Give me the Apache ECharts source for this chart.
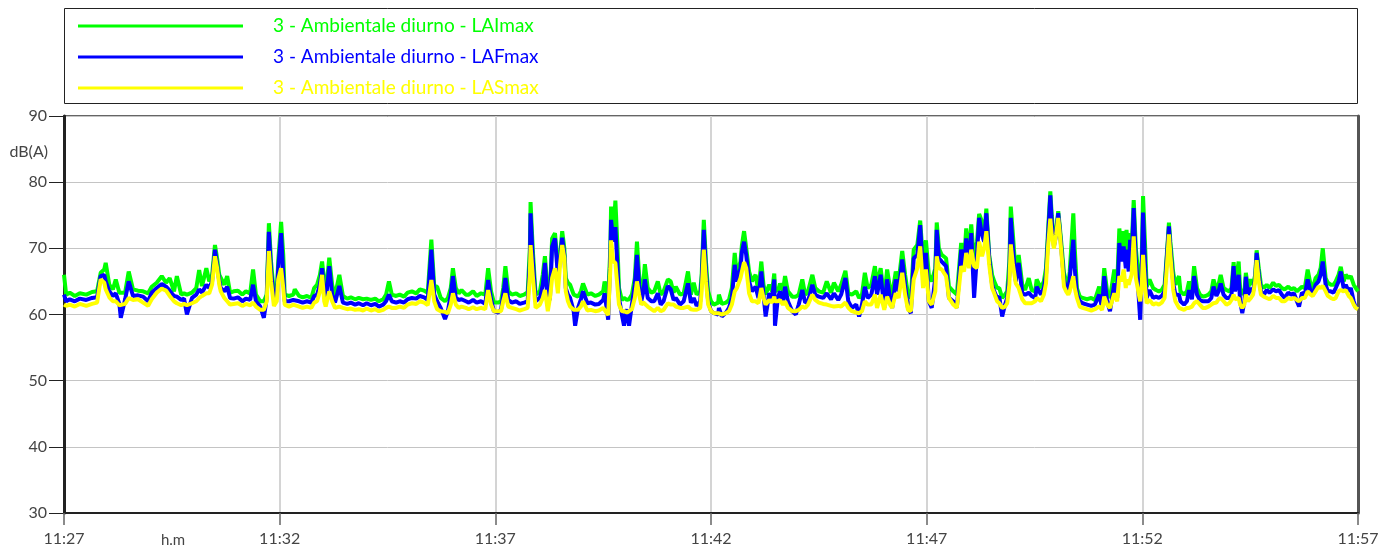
<!DOCTYPE html>
<html>
<head>
<meta charset="utf-8">
<script src="https://cdn.jsdelivr.net/npm/echarts@6/dist/echarts.min.js"></script>
<style>
  html, body { margin: 0; padding: 0; background: #fff; }
  #chart { width: 1394px; height: 550px; }
</style>
</head>
<body>
<div id="chart"></div>
<script>
// seconds after 11:27:00
const secs = [
  0,3,8,15,22,31,39,46,51,56,58,63,68,72,77,79,85,90,96,103,110,117,
  122,129,136,142,147,153,157,163,167,171,178,184,188,192,198,202,206,210,213,216,218,223,227,
  231,236,242,248,253,259,263,267,273,278,282,285,288,292,296,298,302,305,307,313,319,321,327,332,338,
  344,348,352,356,359,362,364,369,373,377,383,388,394,399,405,410,416,421,427,433,438,444,448,
  452,456,462,467,473,478,484,490,495,501,506,511,515,519,524,530,534,538,541,545,549,553,559,
  563,569,574,580,586,590,594,598,604,608,611,614,618,623,629,634,640,645,648,649,652,656,662,666,669,673,
  676,679,683,687,690,693,696,698,701,704,709,711,715,719,722,728,733,739,744,750,752,
  757,760,761,764,767,770,772,776,779,783,786,790,794,797,800,803,806,808,812,817,821,826,830,834,
  840,844,848,851,857,862,868,872,876,880,885,887,890,893,896,900,904,910,911,915,921,925,
  929,933,936,941,943,946,949,953,957,962,966,970,973,976,981,985,988,989,993,996,1000,1003,1007,1013,1018,1022,
  1027,1031,1035,1041,1045,1050,1056,1061,1067,1071,1077,1081,1087,1091,1096,1102,1106,1110,1114,1118,1123,1128,
  1131,1136,1141,1145,1149,1152,1157,1161,1166,1170,1174,1178,1182,1187,1191,1195,1199,1203,1207,1212,1214,1217,1221,1227,
  1231,1237,1242,1248,1252,1255,1259,1262,1266,1270,1273,1277,1280,1283,1287,1291,1294,1298,1301,1305,1309,1312,
  1315,1317,1320,1324,1328,1333,1337,1342,1346,1351,1353,1359,1363,1366,1369,1372,1374,1377,1380,1383,1385,1388,1391,1394,1397,
  1399,1404,1406,1409,1413,1417,1423,1429,1434,1440,1444,1447,1451,1455,1461,1465,1468,1471,1474,1477,1478,1481,1483,1485,1488,1491,1494,
  1497,1499,1501,1504,1506,1510,1515,1519,1523,1527,1531,1534,1537,1539,1543,1546,1551,1553,1558,1562,1565,1569,1572,1576,
  1580,1584,1588,1592,1596,1599,1603,1606,1609,1613,1617,1621,1624,1627,1629,1634,1636,1639,1642,1644,1647,1651,1654,1657,1659,1662,1665,
  1669,1673,1677,1682,1686,1690,1694,1698,1703,1707,1711,1715,1718,1722,1726,1730,1734,1737,1741,1745,1748,1751,1755,
  1758,1762,1766,1769,1773,1776,1780,1783,1787,1790,1794,1797,1800
]

const laiMax = [
  66.0,63.0,63.3,62.8,63.2,63.0,63.4,63.5,66.3,66.8,67.8,64.5,63.8,65.3,63.3,63.0,63.3,66.5,63.8,63.6,63.5,63.2,
  64.2,64.8,65.8,64.8,65.5,63.5,65.8,63.0,63.2,63.0,63.3,64.0,66.7,64.3,67.0,65.0,66.0,70.5,68.5,66.0,65.8,64.5,65.8,
  63.3,63.5,63.6,63.0,63.5,63.2,66.8,63.0,62.0,62.0,63.0,73.8,68.0,63.2,63.5,68.1,74.0,69.0,63.0,62.8,63.0,63.8,62.8,62.6,62.8,
  62.5,64.0,64.5,66.0,68.0,65.0,63.0,68.6,64.5,62.8,66.0,62.8,62.4,62.6,62.3,62.5,62.3,62.4,62.2,62.4,62.0,62.3,63.0,
  65.0,63.0,62.8,63.0,62.7,63.3,63.5,63.2,63.8,63.6,63.3,71.3,64.3,64.2,62.5,62.0,62.5,64.0,67.0,64.0,63.2,63.7,63.0,
  63.0,63.5,62.8,63.2,63.0,67.0,63.5,61.8,61.8,62.0,64.0,67.3,63.5,63.0,63.2,62.8,63.0,63.4,70.0,77.0,70.0,63.0,63.5,66.0,68.8,63.0,
  63.5,71.5,72.3,67.0,69.0,72.6,70.0,65.5,64.8,64.5,63.0,62.7,62.7,63.5,64.7,63.0,63.2,62.8,63.0,63.5,65.0,
  62.5,70.0,76.3,72.0,77.2,70.0,64.0,62.2,62.5,62.2,62.3,63.0,65.5,71.0,66.0,63.0,65.0,67.6,64.0,63.3,63.5,65.0,63.0,63.5,
  65.3,65.0,63.3,64.2,63.0,63.2,66.5,63.0,64.8,63.0,63.5,66.0,74.3,68.0,63.5,62.0,61.5,61.8,63.0,61.6,61.8,62.2,
  64.0,69.3,66.0,68.0,70.5,72.6,70.0,66.5,65.0,66.0,63.5,68.0,64.5,63.0,64.5,63.5,66.2,64.0,63.5,64.7,63.5,65.8,63.5,62.7,62.7,63.0,
  65.3,63.0,63.5,66.0,64.0,63.5,63.3,65.0,63.3,64.8,63.5,64.5,66.6,63.2,63.0,63.5,62.5,63.0,66.3,64.0,64.5,67.3,
  64.5,67.0,62.5,66.8,64.0,63.0,66.5,65.0,69.6,66.0,63.0,62.5,69.8,70.5,74.2,68.0,71.2,66.0,65.0,67.0,73.9,70.0,69.0,68.5,
  64.2,63.5,63.0,70.8,68.0,73.0,69.0,73.6,68.0,71.0,75.2,74.0,72.0,76.0,69.0,66.0,65.0,64.0,64.0,62.5,63.0,63.5,
  68.0,76.3,72.0,66.0,69.0,64.5,63.7,65.5,63.7,63.5,65.3,64.0,65.0,67.0,73.0,78.6,75.0,71.0,72.5,75.6,73.5,70.0,66.3,65.0,64.5,
  66.5,75.3,70.0,64.0,62.7,62.5,62.3,62.5,62.2,64.2,62.5,67.0,63.5,62.5,66.8,64.5,73.0,70.0,72.6,69.0,72.8,68.0,72.3,70.0,77.3,70.0,66.5,
  64.0,68.0,77.9,70.0,64.2,65.3,64.0,63.7,63.5,63.7,64.5,69.0,73.9,71.0,66.3,64.5,65.8,63.5,63.0,63.5,65.0,63.5,67.3,64.0,
  63.0,62.7,62.8,63.0,63.5,65.3,63.8,64.5,66.0,64.0,63.7,63.5,64.0,67.9,64.5,68.0,64.0,63.0,63.5,66.3,64.0,65.3,64.5,66.0,69.7,67.0,64.5,
  64.0,64.5,64.0,64.8,64.3,64.5,64.0,63.8,64.2,63.8,64.0,63.5,63.8,64.2,64.0,66.8,64.5,64.0,65.5,66.0,67.0,70.0,65.5,
  64.8,64.5,64.5,65.0,66.0,67.2,65.0,66.0,65.5,65.8,64.5,64.0,63.5
]

const lafMax = [
  63.0,62.0,62.3,62.0,62.4,62.2,62.5,62.6,65.8,66.0,65.0,63.5,62.8,63.2,61.6,59.5,62.3,65.0,62.8,62.9,62.7,62.0,
  63.3,64.0,64.6,64.2,63.6,62.8,62.7,62.2,62.4,60.0,62.5,63.0,63.8,63.3,64.5,64.0,65.0,69.8,67.5,65.0,64.0,63.5,64.2,
  62.5,62.4,62.6,62.0,62.4,62.2,64.5,62.0,61.2,59.5,62.5,72.5,66.5,62.3,62.5,67.0,72.3,66.0,62.0,62.0,62.2,62.5,62.0,61.8,62.0,
  61.8,62.8,63.0,64.5,67.0,63.0,62.0,67.3,63.0,61.8,64.3,61.8,61.6,61.8,61.5,61.7,61.4,61.7,61.4,61.6,61.2,61.5,62.0,
  63.0,62.0,61.8,62.0,61.8,62.3,62.5,62.4,62.8,62.6,62.2,69.8,63.0,62.0,61.0,59.3,60.5,63.0,65.8,62.5,62.2,62.3,62.0,
  61.8,62.2,61.8,62.0,61.6,65.2,62.3,60.5,60.3,60.8,63.0,65.5,62.2,61.8,62.0,61.6,61.8,62.0,68.0,75.3,68.5,62.0,62.5,64.5,67.8,61.5,
  62.5,70.3,71.5,66.0,68.0,71.6,69.0,64.0,63.0,62.5,60.5,58.3,61.0,62.3,63.5,61.7,61.8,61.5,61.6,62.2,63.2,
  59.2,69.0,74.3,71.0,73.2,67.0,62.5,60.0,58.3,60.8,58.3,61.5,64.5,69.0,64.5,62.0,63.5,65.3,62.5,62.0,62.0,63.2,61.5,62.0,
  64.3,63.8,62.2,62.5,61.5,62.0,64.7,61.8,62.5,61.3,62.0,65.0,72.8,66.5,62.0,60.5,60.2,60.0,61.0,59.7,60.3,61.0,
  62.5,67.5,65.0,67.0,69.5,71.0,69.0,65.0,63.5,64.2,62.5,66.5,63.0,59.7,63.2,62.5,65.3,58.3,62.5,63.5,62.0,64.2,62.0,60.5,60.0,61.5,
  63.7,61.8,62.0,64.5,63.0,62.7,62.5,63.2,62.3,63.2,62.2,63.0,65.5,62.0,61.0,61.5,59.7,61.5,64.2,62.5,63.0,65.8,
  63.0,66.0,61.0,65.3,62.5,61.0,65.3,63.5,68.3,64.5,61.0,60.2,68.5,69.0,73.5,66.0,69.3,62.0,61.0,65.5,72.8,68.5,68.0,67.3,
  62.5,62.0,61.0,69.8,67.0,71.5,68.0,72.3,62.5,69.0,74.6,72.0,71.0,75.3,68.5,64.5,63.5,62.5,62.7,59.7,61.5,62.5,
  66.0,74.6,70.0,65.0,67.8,63.2,63.0,63.3,62.8,62.5,64.2,63.0,64.0,66.0,72.0,78.0,74.0,70.3,72.0,75.3,73.0,69.0,65.2,64.0,63.5,
  65.5,71.3,67.0,63.0,62.0,61.7,61.5,61.3,61.5,63.0,61.0,65.8,62.0,60.5,64.7,62.5,70.8,68.0,70.3,67.0,69.8,66.5,71.3,68.0,76.1,68.0,64.3,
  59.2,66.0,75.4,67.0,62.5,63.7,62.5,62.7,62.5,62.8,63.5,68.5,73.3,70.0,64.7,63.0,63.0,62.0,61.5,62.0,63.7,62.3,65.8,63.0,
  62.2,62.0,62.0,62.0,62.5,64.2,62.8,63.5,64.7,63.0,62.5,62.5,63.0,67.3,63.5,66.0,62.0,60.2,62.0,65.7,63.0,64.0,63.5,65.5,69.3,66.0,63.5,
  63.0,63.7,63.3,63.8,63.5,63.7,63.0,62.5,63.3,63.0,63.2,62.0,61.2,63.3,63.0,65.3,63.5,63.0,64.5,65.0,66.0,68.0,64.5,
  63.5,63.5,63.3,64.0,65.0,66.5,64.0,64.5,63.5,64.0,62.0,61.0,61.0
]

const lasMax = [
  61.5,61.3,61.5,61.2,61.6,61.3,61.6,61.8,65.3,64.8,63.8,62.6,62.0,62.0,61.4,61.2,61.6,62.5,62.2,62.3,61.8,61.3,
  62.3,63.3,63.9,63.6,62.8,62.0,61.7,61.4,61.6,61.4,61.7,62.0,62.5,62.8,63.2,63.2,64.5,68.8,67.0,64.5,63.5,62.5,62.0,
  61.5,61.6,61.7,61.3,61.6,61.4,61.8,61.2,60.7,60.7,62.0,69.6,65.0,61.3,62.0,65.3,67.0,64.0,61.5,61.2,61.5,61.6,61.2,61.0,61.2,
  61.0,61.8,62.0,63.5,66.0,62.0,61.2,63.5,62.0,61.0,61.2,61.0,60.8,60.9,60.7,60.8,60.6,60.9,60.6,60.8,60.5,60.7,61.0,
  61.2,61.0,61.0,61.2,61.0,61.5,61.7,61.6,62.0,61.8,61.4,65.2,62.0,60.8,60.5,60.4,60.2,61.5,63.2,61.5,61.0,61.2,61.0,
  60.8,61.1,60.8,61.0,60.8,63.7,61.5,60.5,60.5,60.5,62.0,63.2,61.2,61.0,60.8,60.6,60.8,61.0,66.0,70.5,66.0,61.0,61.5,62.5,63.7,60.5,
  62.5,65.5,67.0,63.2,67.5,70.5,68.5,63.5,62.0,61.2,60.7,60.5,60.7,61.2,62.0,60.6,60.7,60.5,60.6,61.0,61.2,
  59.9,67.0,71.2,68.0,67.8,64.0,61.5,60.5,60.5,60.3,60.5,60.8,62.5,65.0,63.0,61.5,61.8,62.0,61.2,60.8,60.5,61.0,60.5,60.7,
  61.7,61.5,61.5,61.2,61.0,61.0,61.2,60.8,60.7,60.7,61.0,63.5,69.8,65.0,61.5,60.5,60.2,60.2,60.4,60.0,60.2,60.5,
  61.5,63.5,64.0,65.5,66.5,67.9,67.0,63.2,62.0,62.0,61.7,64.0,62.5,61.5,62.2,61.8,62.7,62.0,62.0,62.2,61.5,62.0,61.0,60.5,60.5,60.7,
  61.2,61.0,61.5,63.0,62.2,61.8,61.6,61.5,61.3,61.2,61.3,61.2,61.8,61.0,60.5,60.3,60.2,60.5,62.0,61.5,61.5,63.0,
  61.0,63.0,60.7,62.7,61.5,61.0,63.2,62.5,66.3,63.0,60.7,60.5,65.3,67.0,70.3,64.0,66.8,62.0,61.5,63.5,68.8,67.0,66.8,65.8,
  62.5,61.5,61.0,67.3,66.5,69.3,67.0,69.8,67.3,67.0,71.0,68.8,70.0,72.6,67.5,64.0,63.2,62.0,61.7,61.0,61.2,61.7,
  64.5,70.6,67.5,64.7,64.0,62.3,61.7,61.7,61.7,62.0,62.5,62.0,63.0,64.7,70.5,74.5,72.0,70.0,72.0,74.6,72.5,68.5,64.2,63.5,63.0,
  63.5,65.8,64.0,62.5,61.2,61.0,60.8,60.6,60.8,61.2,60.7,62.7,61.5,61.0,63.2,62.0,65.8,65.0,66.8,64.0,65.3,64.5,64.8,66.0,71.8,65.5,63.7,
  62.0,64.0,69.0,64.0,61.7,62.2,61.5,61.7,61.5,61.8,62.5,67.0,72.1,69.0,63.7,62.0,61.0,61.0,60.7,61.0,61.0,61.2,61.7,62.0,
  61.5,61.0,61.0,61.2,61.5,61.7,61.8,62.3,62.5,62.0,61.5,61.7,62.2,63.0,62.3,62.5,61.5,61.0,61.5,63.0,62.0,62.5,63.0,65.0,68.2,65.0,63.0,
  62.7,62.5,62.3,62.8,62.5,62.5,62.0,62.0,62.5,62.3,62.5,62.2,62.0,62.5,62.5,63.5,63.0,62.8,63.5,64.2,64.0,64.3,63.5,
  62.8,62.5,62.3,62.5,63.5,63.7,63.5,63.7,62.8,62.5,61.5,61.0,60.8
]

const timeLabels = ['11:27', '11:32', '11:37', '11:42', '11:47', '11:52', '11:57']
const seriesNames = [
  '3 - Ambientale diurno - LAImax',
  '3 - Ambientale diurno - LAFmax',
  '3 - Ambientale diurno - LASmax'
]
const seriesColors = ['#00ff00', '#0000ff', '#ffff00']
const seriesValues = [laiMax, lafMax, lasMax]

const font = 'Lato, "Open Sans", sans-serif'
const chart = echarts.init(document.getElementById('chart'))

const option = {
  animation: false,
  backgroundColor: '#fff',
  legend: {
    orient: 'vertical',
    left: 78,
    top: 16,
    padding: 0,
    itemWidth: 165,
    itemHeight: 3,
    itemGap: 11,
    icon: 'rect',
    selectedMode: false,
    textStyle: {
      fontFamily: font,
      fontSize: 19,
      lineHeight: 20,
      padding: [0, 0, 0, 25]
    },
    data: seriesNames.map((n, i) => ({
      name: n,
      textStyle: { color: seriesColors[i] }
    }))
  },
  grid: {
    left: 64,
    right: 36,
    top: 116,
    bottom: 37,
    show: true,
    borderColor: '#333',
    borderWidth: 1.5
  },
  xAxis: {
    type: 'value',
    min: 0,
    max: 1800,
    interval: 300,
    axisLine: { show: true, lineStyle: { color: '#222', width: 2 } },
    axisTick: { show: true, length: 12, lineStyle: { color: '#666', width: 1.5 } },
    axisLabel: {
      color: '#444',
      fontFamily: font,
      fontSize: 16,
      margin: 18,
      formatter: v => timeLabels[Math.round(v / 300)]
    },
    splitLine: { show: true, lineStyle: { color: '#d4d4d4', width: 2 } }
  },
  yAxis: [
    {
      type: 'value',
      min: 30,
      max: 90,
      interval: 10,
      axisLine: { show: true, lineStyle: { color: '#222', width: 3 } },
      axisTick: { show: true, length: 15, lineStyle: { color: '#222' } },
      axisLabel: { color: '#444', fontFamily: font, fontSize: 16, margin: 17 },
      splitLine: { show: true, lineStyle: { color: '#c4c4c4', width: 1 } }
    },
    {
      type: 'value',
      min: 30,
      max: 90,
      interval: 10,
      position: 'right',
      axisLine: { show: true, lineStyle: { color: '#555', width: 3 } },
      axisTick: { show: false },
      axisLabel: { show: false },
      splitLine: { show: false }
    }
  ],
  graphic: [
    {
      type: 'rect',
      shape: { x: 64.5, y: 8.5, width: 1293, height: 95 },
      style: { fill: 'none', stroke: '#222', lineWidth: 1 },
      silent: true
    },
    {
      type: 'text',
      x: 48,
      y: 152,
      style: {
        text: 'dB(A)',
        fill: '#444',
        font: '16px ' + font,
        align: 'right',
        verticalAlign: 'middle'
      }
    },
    {
      type: 'text',
      x: 173,
      y: 540,
      style: {
        text: 'h.m',
        fill: '#444',
        font: '15px ' + font,
        align: 'center',
        verticalAlign: 'middle'
      }
    }
  ],
  series: seriesNames.map((n, i) => ({
    name: n,
    type: 'line',
    data: secs.map((t, k) => [t, seriesValues[i][k]]),
    showSymbol: false,
    symbol: 'none',
    color: seriesColors[i],
    lineStyle: { width: 4, color: seriesColors[i] },
    z: 2 + i
  }))
}

chart.setOption(option)
</script>
</body>
</html>
